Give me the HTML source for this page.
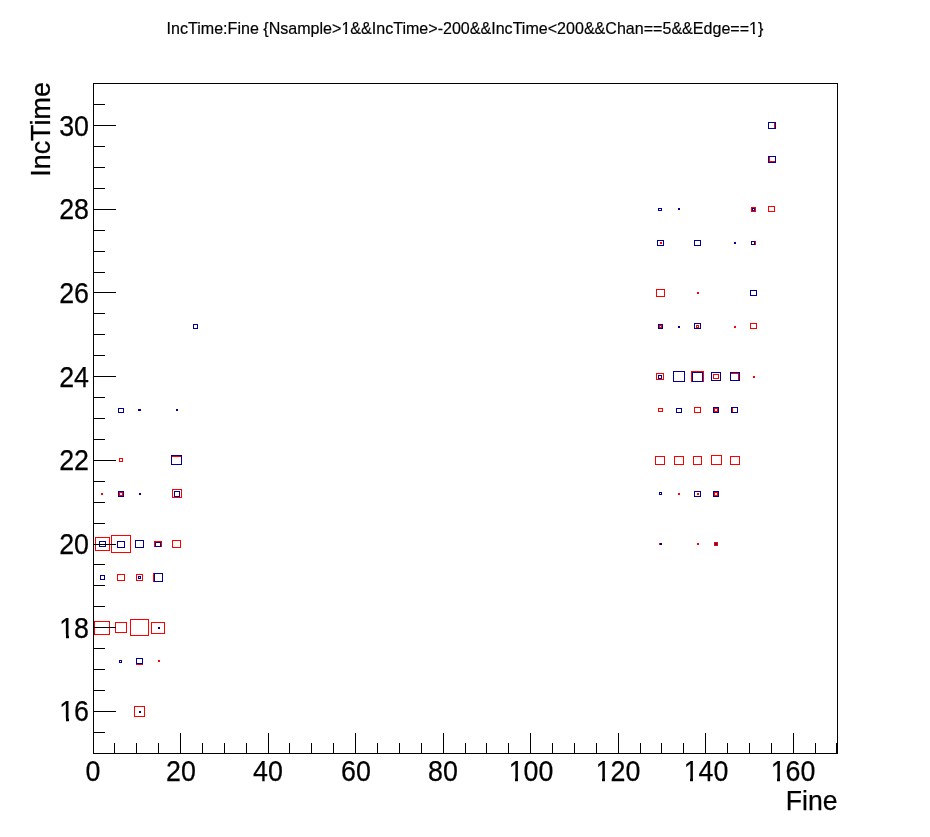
<!DOCTYPE html>
<html><head><meta charset="utf-8"><title>IncTime:Fine</title>
<style>
html,body{margin:0;padding:0;background:#fff}
#c{position:relative;width:930px;height:837px;overflow:hidden;background:#fff;font-family:"Liberation Sans",sans-serif;color:#000}
#c i{position:absolute;display:block}
.b{border:1px solid;background:transparent}
.k{background:#000}
.w{background:#fff}
.xl{position:absolute;top:755.5px;width:100px;text-align:center;font-size:29.3px;line-height:30px;white-space:nowrap;transform:scaleX(0.915);-webkit-text-stroke:0.25px #000}
.yl{position:absolute;left:0;width:89px;text-align:right;font-size:29.3px;line-height:30px;white-space:nowrap;transform-origin:100% 50%;transform:scaleX(0.915);-webkit-text-stroke:0.25px #000}
#t{position:absolute;left:0.1px;top:19.1px;width:930px;text-align:center;font-size:17px;-webkit-text-stroke:0.2px #000;line-height:20px;white-space:nowrap;transform:scaleX(0.9447)}
#xt{position:absolute;right:92.7px;top:786.4px;font-size:27.5px;-webkit-text-stroke:0.25px #000;transform-origin:100% 50%;transform:scaleX(0.968);line-height:30px;white-space:nowrap}
#yt{position:absolute;right:904.4px;top:82.3px;font-size:27.5px;-webkit-text-stroke:0.25px #000;line-height:30px;white-space:nowrap;transform-origin:100% 0;transform:rotate(-90deg) scaleX(0.98)}
</style></head><body>
<div id="c">
<div id="t">IncTime:Fine {Nsample&gt;1&amp;&amp;IncTime&gt;-200&amp;&amp;IncTime&lt;200&amp;&amp;Chan==5&amp;&amp;Edge==1}</div>
<i class="b" style="left:119px;top:458px;width:2px;height:2px;border-color:#ff0000"></i>
<i class="b" style="left:171px;top:456px;width:9px;height:7px;border-color:#ff0000"></i>
<i class="b" style="left:119px;top:492px;width:2px;height:2px;border-color:#ff0000"></i>
<i class="b" style="left:172px;top:489px;width:8px;height:7px;border-color:#ff0000"></i>
<i class="b" style="left:95px;top:537px;width:13px;height:12px;border-color:#ff0000"></i>
<i class="b" style="left:111px;top:535px;width:18px;height:16px;border-color:#ff0000"></i>
<i class="b" style="left:154px;top:541px;width:6px;height:4px;border-color:#ff0000"></i>
<i class="b" style="left:172px;top:540px;width:7px;height:6px;border-color:#ff0000"></i>
<i class="b" style="left:117px;top:574px;width:6px;height:5px;border-color:#ff0000"></i>
<i class="b" style="left:136px;top:574px;width:5px;height:5px;border-color:#ff0000"></i>
<i class="b" style="left:153px;top:573px;width:8px;height:7px;border-color:#ff0000"></i>
<i class="b" style="left:94px;top:621px;width:14px;height:12px;border-color:#ff0000"></i>
<i class="b" style="left:115px;top:622px;width:10px;height:9px;border-color:#ff0000"></i>
<i class="b" style="left:130px;top:619px;width:17px;height:15px;border-color:#ff0000"></i>
<i class="b" style="left:151px;top:622px;width:12px;height:10px;border-color:#ff0000"></i>
<i class="b" style="left:136px;top:658px;width:5px;height:5px;border-color:#ff0000"></i>
<i class="b" style="left:134px;top:706px;width:9px;height:9px;border-color:#ff0000"></i>
<i class="b" style="left:768px;top:122px;width:5px;height:5px;border-color:#ff0000"></i>
<i class="b" style="left:769px;top:156px;width:5px;height:4px;border-color:#ff0000"></i>
<i class="b" style="left:751px;top:207px;width:3px;height:3px;border-color:#ff0000"></i>
<i class="b" style="left:768px;top:206px;width:5px;height:4px;border-color:#ff0000"></i>
<i class="b" style="left:751px;top:241px;width:3px;height:2px;border-color:#ff0000"></i>
<i class="b" style="left:656px;top:289px;width:7px;height:6px;border-color:#ff0000"></i>
<i class="b" style="left:659px;top:325px;width:1px;height:1px;border-color:#ff0000"></i>
<i class="b" style="left:696px;top:325px;width:1px;height:1px;border-color:#ff0000"></i>
<i class="b" style="left:750px;top:323px;width:5px;height:4px;border-color:#ff0000"></i>
<i class="b" style="left:656px;top:373px;width:6px;height:5px;border-color:#ff0000"></i>
<i class="b" style="left:691px;top:371px;width:11px;height:9px;border-color:#ff0000"></i>
<i class="b" style="left:713px;top:374px;width:4px;height:3px;border-color:#ff0000"></i>
<i class="b" style="left:730px;top:373px;width:7px;height:6px;border-color:#ff0000"></i>
<i class="b" style="left:658px;top:408px;width:3px;height:2px;border-color:#ff0000"></i>
<i class="b" style="left:694px;top:407px;width:5px;height:4px;border-color:#ff0000"></i>
<i class="b" style="left:714px;top:408px;width:2px;height:2px;border-color:#ff0000"></i>
<i class="b" style="left:732px;top:407px;width:4px;height:4px;border-color:#ff0000"></i>
<i class="b" style="left:655px;top:456px;width:8px;height:7px;border-color:#ff0000"></i>
<i class="b" style="left:674px;top:456px;width:8px;height:7px;border-color:#ff0000"></i>
<i class="b" style="left:693px;top:456px;width:7px;height:7px;border-color:#ff0000"></i>
<i class="b" style="left:711px;top:455px;width:9px;height:8px;border-color:#ff0000"></i>
<i class="b" style="left:730px;top:456px;width:8px;height:7px;border-color:#ff0000"></i>
<i class="b" style="left:714px;top:492px;width:2px;height:2px;border-color:#ff0000"></i>
<i class="f" style="left:101px;top:493px;width:2px;height:2px;background:#ff0000"></i>
<i class="f" style="left:158px;top:660px;width:2px;height:2px;background:#ff0000"></i>
<i class="f" style="left:660px;top:242px;width:2px;height:2px;background:#ff0000"></i>
<i class="f" style="left:697px;top:292px;width:2px;height:2px;background:#ff0000"></i>
<i class="f" style="left:734px;top:326px;width:2px;height:2px;background:#ff0000"></i>
<i class="f" style="left:753px;top:376px;width:2px;height:2px;background:#ff0000"></i>
<i class="f" style="left:678px;top:493px;width:2px;height:2px;background:#ff0000"></i>
<i class="f" style="left:697px;top:493px;width:2px;height:2px;background:#ff0000"></i>
<i class="f" style="left:659px;top:543px;width:3px;height:2px;background:#ff0000"></i>
<i class="f" style="left:697px;top:543px;width:2px;height:2px;background:#ff0000"></i>
<i class="f" style="left:714px;top:542px;width:4px;height:4px;background:#ff0000"></i>
<i class="b" style="left:193px;top:324px;width:3px;height:3px;border-color:#000099"></i>
<i class="b" style="left:118px;top:408px;width:4px;height:3px;border-color:#000099"></i>
<i class="b" style="left:171px;top:455px;width:9px;height:8px;border-color:#000099"></i>
<i class="b" style="left:118px;top:491px;width:4px;height:4px;border-color:#000099"></i>
<i class="b" style="left:174px;top:491px;width:4px;height:4px;border-color:#000099"></i>
<i class="b" style="left:99px;top:541px;width:5px;height:4px;border-color:#000099"></i>
<i class="b" style="left:117px;top:541px;width:6px;height:5px;border-color:#000099"></i>
<i class="b" style="left:135px;top:540px;width:7px;height:6px;border-color:#000099"></i>
<i class="b" style="left:155px;top:542px;width:4px;height:3px;border-color:#000099"></i>
<i class="b" style="left:100px;top:575px;width:3px;height:3px;border-color:#000099"></i>
<i class="b" style="left:138px;top:576px;width:1px;height:1px;border-color:#000099"></i>
<i class="b" style="left:154px;top:573px;width:7px;height:7px;border-color:#000099"></i>
<i class="b" style="left:119px;top:660px;width:1px;height:1px;border-color:#000099"></i>
<i class="b" style="left:136px;top:658px;width:5px;height:4px;border-color:#000099"></i>
<i class="b" style="left:768px;top:122px;width:6px;height:5px;border-color:#000099"></i>
<i class="b" style="left:768px;top:156px;width:6px;height:5px;border-color:#000099"></i>
<i class="b" style="left:658px;top:208px;width:2px;height:1px;border-color:#000099"></i>
<i class="b" style="left:752px;top:208px;width:1px;height:1px;border-color:#000099"></i>
<i class="b" style="left:657px;top:240px;width:5px;height:4px;border-color:#000099"></i>
<i class="b" style="left:694px;top:240px;width:5px;height:4px;border-color:#000099"></i>
<i class="b" style="left:751px;top:241px;width:2px;height:2px;border-color:#000099"></i>
<i class="b" style="left:750px;top:290px;width:5px;height:4px;border-color:#000099"></i>
<i class="b" style="left:658px;top:324px;width:3px;height:3px;border-color:#000099"></i>
<i class="b" style="left:694px;top:323px;width:5px;height:4px;border-color:#000099"></i>
<i class="b" style="left:658px;top:375px;width:2px;height:2px;border-color:#000099"></i>
<i class="b" style="left:673px;top:371px;width:10px;height:9px;border-color:#000099"></i>
<i class="b" style="left:692px;top:372px;width:9px;height:8px;border-color:#000099"></i>
<i class="b" style="left:711px;top:372px;width:8px;height:7px;border-color:#000099"></i>
<i class="b" style="left:730px;top:372px;width:8px;height:7px;border-color:#000099"></i>
<i class="b" style="left:676px;top:408px;width:4px;height:3px;border-color:#000099"></i>
<i class="b" style="left:713px;top:407px;width:4px;height:4px;border-color:#000099"></i>
<i class="b" style="left:731px;top:407px;width:5px;height:4px;border-color:#000099"></i>
<i class="b" style="left:659px;top:492px;width:1px;height:1px;border-color:#000099"></i>
<i class="b" style="left:694px;top:491px;width:5px;height:4px;border-color:#000099"></i>
<i class="b" style="left:713px;top:491px;width:4px;height:4px;border-color:#000099"></i>
<i class="f" style="left:138px;top:409px;width:3px;height:2px;background:#000099"></i>
<i class="f" style="left:176px;top:409px;width:2px;height:2px;background:#000099"></i>
<i class="f" style="left:139px;top:493px;width:2px;height:2px;background:#000099"></i>
<i class="f" style="left:158px;top:627px;width:2px;height:2px;background:#000099"></i>
<i class="f" style="left:139px;top:711px;width:2px;height:2px;background:#000099"></i>
<i class="f" style="left:678px;top:208px;width:2px;height:2px;background:#000099"></i>
<i class="f" style="left:734px;top:242px;width:2px;height:2px;background:#000099"></i>
<i class="f" style="left:678px;top:326px;width:2px;height:2px;background:#000099"></i>
<i class="f" style="left:660px;top:543px;width:2px;height:2px;background:#000099"></i>
<i class="f" style="left:715px;top:543px;width:2px;height:2px;background:#000099"></i>
<i class="k" style="left:93px;top:83px;width:745px;height:1px"></i>
<i class="k" style="left:93px;top:753px;width:745px;height:1px"></i>
<i class="k" style="left:93px;top:83px;width:1px;height:671px"></i>
<i class="k" style="left:837px;top:83px;width:1px;height:671px"></i>
<i class="k" style="left:93px;top:733px;width:1px;height:20px"></i>
<i class="k" style="left:114px;top:743px;width:1px;height:10px"></i>
<i class="k" style="left:136px;top:743px;width:1px;height:10px"></i>
<i class="k" style="left:158px;top:743px;width:1px;height:10px"></i>
<i class="k" style="left:180px;top:733px;width:1px;height:20px"></i>
<i class="k" style="left:202px;top:743px;width:1px;height:10px"></i>
<i class="k" style="left:224px;top:743px;width:1px;height:10px"></i>
<i class="k" style="left:246px;top:743px;width:1px;height:10px"></i>
<i class="k" style="left:268px;top:733px;width:1px;height:20px"></i>
<i class="k" style="left:289px;top:743px;width:1px;height:10px"></i>
<i class="k" style="left:311px;top:743px;width:1px;height:10px"></i>
<i class="k" style="left:333px;top:743px;width:1px;height:10px"></i>
<i class="k" style="left:355px;top:733px;width:1px;height:20px"></i>
<i class="k" style="left:377px;top:743px;width:1px;height:10px"></i>
<i class="k" style="left:399px;top:743px;width:1px;height:10px"></i>
<i class="k" style="left:421px;top:743px;width:1px;height:10px"></i>
<i class="k" style="left:443px;top:733px;width:1px;height:20px"></i>
<i class="k" style="left:465px;top:743px;width:1px;height:10px"></i>
<i class="k" style="left:486px;top:743px;width:1px;height:10px"></i>
<i class="k" style="left:508px;top:743px;width:1px;height:10px"></i>
<i class="k" style="left:530px;top:733px;width:1px;height:20px"></i>
<i class="k" style="left:552px;top:743px;width:1px;height:10px"></i>
<i class="k" style="left:574px;top:743px;width:1px;height:10px"></i>
<i class="k" style="left:596px;top:743px;width:1px;height:10px"></i>
<i class="k" style="left:618px;top:733px;width:1px;height:20px"></i>
<i class="k" style="left:640px;top:743px;width:1px;height:10px"></i>
<i class="k" style="left:661px;top:743px;width:1px;height:10px"></i>
<i class="k" style="left:683px;top:743px;width:1px;height:10px"></i>
<i class="k" style="left:705px;top:733px;width:1px;height:20px"></i>
<i class="k" style="left:727px;top:743px;width:1px;height:10px"></i>
<i class="k" style="left:749px;top:743px;width:1px;height:10px"></i>
<i class="k" style="left:771px;top:743px;width:1px;height:10px"></i>
<i class="k" style="left:793px;top:733px;width:1px;height:20px"></i>
<i class="k" style="left:815px;top:743px;width:1px;height:10px"></i>
<i class="k" style="left:837px;top:743px;width:1px;height:10px"></i>
<i class="k" style="left:836px;top:743px;width:1px;height:10px"></i>
<i class="k" style="left:93px;top:753px;width:12px;height:1px"></i>
<i class="k" style="left:93px;top:732px;width:12px;height:1px"></i>
<i class="k" style="left:93px;top:711px;width:23px;height:1px"></i>
<i class="k" style="left:93px;top:690px;width:12px;height:1px"></i>
<i class="k" style="left:93px;top:669px;width:12px;height:1px"></i>
<i class="k" style="left:93px;top:648px;width:12px;height:1px"></i>
<i class="k" style="left:93px;top:627px;width:23px;height:1px"></i>
<i class="k" style="left:93px;top:606px;width:12px;height:1px"></i>
<i class="k" style="left:93px;top:585px;width:12px;height:1px"></i>
<i class="k" style="left:93px;top:564px;width:12px;height:1px"></i>
<i class="k" style="left:93px;top:544px;width:23px;height:1px"></i>
<i class="k" style="left:93px;top:523px;width:12px;height:1px"></i>
<i class="k" style="left:93px;top:502px;width:12px;height:1px"></i>
<i class="k" style="left:93px;top:481px;width:12px;height:1px"></i>
<i class="k" style="left:93px;top:460px;width:23px;height:1px"></i>
<i class="k" style="left:93px;top:439px;width:12px;height:1px"></i>
<i class="k" style="left:93px;top:418px;width:12px;height:1px"></i>
<i class="k" style="left:93px;top:397px;width:12px;height:1px"></i>
<i class="k" style="left:93px;top:376px;width:23px;height:1px"></i>
<i class="k" style="left:93px;top:355px;width:12px;height:1px"></i>
<i class="k" style="left:93px;top:334px;width:12px;height:1px"></i>
<i class="k" style="left:93px;top:313px;width:12px;height:1px"></i>
<i class="k" style="left:93px;top:292px;width:23px;height:1px"></i>
<i class="k" style="left:93px;top:272px;width:12px;height:1px"></i>
<i class="k" style="left:93px;top:251px;width:12px;height:1px"></i>
<i class="k" style="left:93px;top:230px;width:12px;height:1px"></i>
<i class="k" style="left:93px;top:209px;width:23px;height:1px"></i>
<i class="k" style="left:93px;top:188px;width:12px;height:1px"></i>
<i class="k" style="left:93px;top:167px;width:12px;height:1px"></i>
<i class="k" style="left:93px;top:146px;width:12px;height:1px"></i>
<i class="k" style="left:93px;top:125px;width:23px;height:1px"></i>
<i class="k" style="left:93px;top:104px;width:12px;height:1px"></i>
<i class="k" style="left:93px;top:83px;width:12px;height:1px"></i>
<span class="xl" style="left:43.0px">0</span>
<span class="xl" style="left:130.5px">20</span>
<span class="xl" style="left:218.1px">40</span>
<span class="xl" style="left:305.6px">60</span>
<span class="xl" style="left:393.1px">80</span>
<span class="xl" style="left:480.6px">100</span>
<span class="xl" style="left:568.2px">120</span>
<span class="xl" style="left:655.7px">140</span>
<span class="xl" style="left:743.2px">160</span>
<span class="yl" style="top:696.4px">16</span>
<span class="yl" style="top:612.8px">18</span>
<span class="yl" style="top:529.0px">20</span>
<span class="yl" style="top:445.3px">22</span>
<span class="yl" style="top:361.6px">24</span>
<span class="yl" style="top:277.9px">26</span>
<span class="yl" style="top:194.2px">28</span>
<span class="yl" style="top:110.5px">30</span>
<div id="xt">Fine</div>
<div id="yt">IncTime</div>
<i class="w" style="left:341.56px;top:31.72px;width:3.67px;height:4.77px"></i>
<i class="w" style="left:347.22px;top:31.72px;width:3.55px;height:4.77px"></i>
<i class="w" style="left:749.26px;top:31.72px;width:3.67px;height:4.77px"></i>
<i class="w" style="left:754.92px;top:31.72px;width:3.55px;height:4.77px"></i>
<i class="w" style="left:509.16px;top:776.87px;width:5.52px;height:5.29px"></i>
<i class="w" style="left:517.61px;top:776.87px;width:5.31px;height:5.29px"></i>
<i class="w" style="left:596.76px;top:776.87px;width:5.52px;height:5.29px"></i>
<i class="w" style="left:605.20px;top:776.87px;width:5.31px;height:5.29px"></i>
<i class="w" style="left:684.26px;top:776.87px;width:5.52px;height:5.29px"></i>
<i class="w" style="left:692.70px;top:776.87px;width:5.31px;height:5.29px"></i>
<i class="w" style="left:771.76px;top:776.87px;width:5.52px;height:5.29px"></i>
<i class="w" style="left:780.20px;top:776.87px;width:5.31px;height:5.29px"></i>
<i class="w" style="left:60.12px;top:717.76px;width:5.52px;height:5.29px"></i>
<i class="w" style="left:68.56px;top:717.76px;width:5.31px;height:5.29px"></i>
<i class="w" style="left:60.12px;top:634.17px;width:5.52px;height:5.29px"></i>
<i class="w" style="left:68.56px;top:634.17px;width:5.31px;height:5.29px"></i>
</div>
</body></html>
